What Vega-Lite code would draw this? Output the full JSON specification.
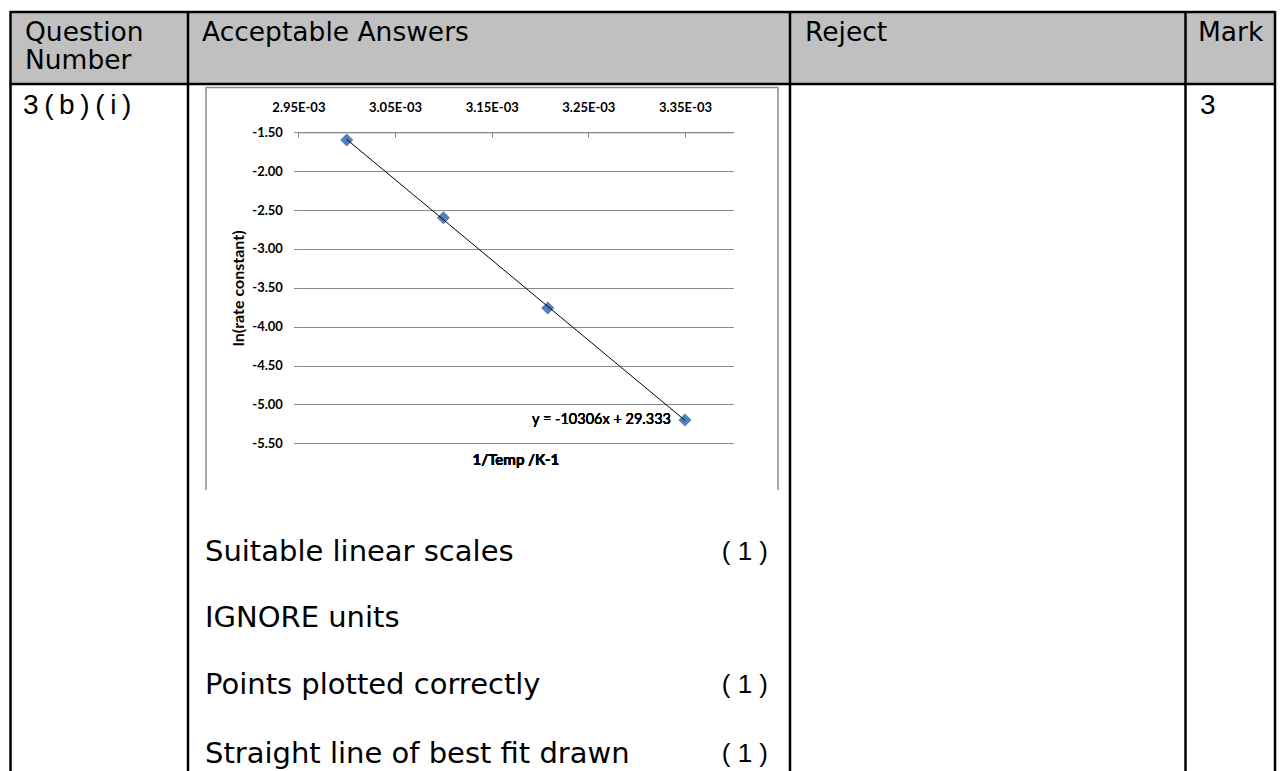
{
  "$schema": "https://vega.github.io/schema/vega-lite/v6.json",
  "width": 1285,
  "height": 771,
  "autosize": {"type": "none"},
  "padding": 0,
  "background": "white",
  "config": {"view": {"stroke": null}},
  "layer": [
    {
      "data": {"values": [{"page": 1}]},
      "layer": [
        {"mark": {"type": "rect", "color": "#C0C0C0"},
         "encoding": {
           "x": {"datum": 10, "type": "quantitative", "scale": {"domain": [0, 1285], "nice": false, "zero": false}, "axis": null},
           "x2": {"datum": 1275},
           "y": {"datum": 12, "type": "quantitative", "scale": {"domain": [0, 771], "nice": false, "zero": false, "reverse": true}, "axis": null},
           "y2": {"datum": 84}}},
        {"mark": {"type": "rule", "color": "#8a8a8a", "strokeWidth": 1.5},
         "encoding": {"x": {"datum": 206, "type": "quantitative", "scale": {"domain": [0, 1285], "nice": false, "zero": false}, "axis": null},
           "y": {"datum": 87.5, "type": "quantitative", "scale": {"domain": [0, 771], "nice": false, "zero": false, "reverse": true}, "axis": null}, "y2": {"datum": 490}}},
        {"mark": {"type": "rule", "color": "#8a8a8a", "strokeWidth": 1.5},
         "encoding": {"x": {"datum": 778, "type": "quantitative", "scale": {"domain": [0, 1285], "nice": false, "zero": false}, "axis": null},
           "y": {"datum": 87.5, "type": "quantitative", "scale": {"domain": [0, 771], "nice": false, "zero": false, "reverse": true}, "axis": null}, "y2": {"datum": 490}}},
        {"mark": {"type": "rule", "color": "#8a8a8a", "strokeWidth": 1.5},
         "encoding": {"x": {"datum": 206, "type": "quantitative", "scale": {"domain": [0, 1285], "nice": false, "zero": false}, "axis": null}, "x2": {"datum": 778},
           "y": {"datum": 87.5, "type": "quantitative", "scale": {"domain": [0, 771], "nice": false, "zero": false, "reverse": true}, "axis": null}}},
        {"mark": {"type": "rule", "color": "#000000", "strokeWidth": 2.5},
         "encoding": {"x": {"datum": 10, "type": "quantitative", "scale": {"domain": [0, 1285], "nice": false, "zero": false}, "axis": null}, "x2": {"datum": 1275},
           "y": {"datum": 12, "type": "quantitative", "scale": {"domain": [0, 771], "nice": false, "zero": false, "reverse": true}, "axis": null}}},
        {"mark": {"type": "rule", "color": "#000000", "strokeWidth": 2.5},
         "encoding": {"x": {"datum": 10, "type": "quantitative", "scale": {"domain": [0, 1285], "nice": false, "zero": false}, "axis": null}, "x2": {"datum": 1275},
           "y": {"datum": 84, "type": "quantitative", "scale": {"domain": [0, 771], "nice": false, "zero": false, "reverse": true}, "axis": null}}},
        {"mark": {"type": "rule", "color": "#000000", "strokeWidth": 2.5},
         "encoding": {"x": {"datum": 10.5, "type": "quantitative", "scale": {"domain": [0, 1285], "nice": false, "zero": false}, "axis": null},
           "y": {"datum": 11, "type": "quantitative", "scale": {"domain": [0, 771], "nice": false, "zero": false, "reverse": true}, "axis": null}, "y2": {"datum": 771}}},
        {"mark": {"type": "rule", "color": "#000000", "strokeWidth": 2.5},
         "encoding": {"x": {"datum": 188, "type": "quantitative", "scale": {"domain": [0, 1285], "nice": false, "zero": false}, "axis": null},
           "y": {"datum": 11, "type": "quantitative", "scale": {"domain": [0, 771], "nice": false, "zero": false, "reverse": true}, "axis": null}, "y2": {"datum": 771}}},
        {"mark": {"type": "rule", "color": "#000000", "strokeWidth": 2.5},
         "encoding": {"x": {"datum": 790, "type": "quantitative", "scale": {"domain": [0, 1285], "nice": false, "zero": false}, "axis": null},
           "y": {"datum": 11, "type": "quantitative", "scale": {"domain": [0, 771], "nice": false, "zero": false, "reverse": true}, "axis": null}, "y2": {"datum": 771}}},
        {"mark": {"type": "rule", "color": "#000000", "strokeWidth": 2.5},
         "encoding": {"x": {"datum": 1185.5, "type": "quantitative", "scale": {"domain": [0, 1285], "nice": false, "zero": false}, "axis": null},
           "y": {"datum": 11, "type": "quantitative", "scale": {"domain": [0, 771], "nice": false, "zero": false, "reverse": true}, "axis": null}, "y2": {"datum": 771}}},
        {"mark": {"type": "rule", "color": "#000000", "strokeWidth": 2.5},
         "encoding": {"x": {"datum": 1275, "type": "quantitative", "scale": {"domain": [0, 1285], "nice": false, "zero": false}, "axis": null},
           "y": {"datum": 11, "type": "quantitative", "scale": {"domain": [0, 771], "nice": false, "zero": false, "reverse": true}, "axis": null}, "y2": {"datum": 771}}},
        {"mark": {"type": "text", "text": "Question", "font": "DejaVu Sans", "fontSize": 26.5, "align": "left", "baseline": "alphabetic", "color": "#000000"},
         "encoding": {"x": {"datum": 25, "type": "quantitative", "scale": {"domain": [0, 1285], "nice": false, "zero": false}, "axis": null},
           "y": {"datum": 40.5, "type": "quantitative", "scale": {"domain": [0, 771], "nice": false, "zero": false, "reverse": true}, "axis": null}}},
        {"mark": {"type": "text", "text": "Number", "font": "DejaVu Sans", "fontSize": 26.5, "align": "left", "baseline": "alphabetic", "color": "#000000"},
         "encoding": {"x": {"datum": 25, "type": "quantitative", "scale": {"domain": [0, 1285], "nice": false, "zero": false}, "axis": null},
           "y": {"datum": 69, "type": "quantitative", "scale": {"domain": [0, 771], "nice": false, "zero": false, "reverse": true}, "axis": null}}},
        {"mark": {"type": "text", "text": "Acceptable Answers", "font": "DejaVu Sans", "fontSize": 26.5, "align": "left", "baseline": "alphabetic", "color": "#000000"},
         "encoding": {"x": {"datum": 202, "type": "quantitative", "scale": {"domain": [0, 1285], "nice": false, "zero": false}, "axis": null},
           "y": {"datum": 40.5, "type": "quantitative", "scale": {"domain": [0, 771], "nice": false, "zero": false, "reverse": true}, "axis": null}}},
        {"mark": {"type": "text", "text": "Reject", "font": "DejaVu Sans", "fontSize": 26.5, "align": "left", "baseline": "alphabetic", "color": "#000000"},
         "encoding": {"x": {"datum": 805, "type": "quantitative", "scale": {"domain": [0, 1285], "nice": false, "zero": false}, "axis": null},
           "y": {"datum": 40.5, "type": "quantitative", "scale": {"domain": [0, 771], "nice": false, "zero": false, "reverse": true}, "axis": null}}},
        {"mark": {"type": "text", "text": "Mark", "font": "DejaVu Sans", "fontSize": 26.5, "align": "left", "baseline": "alphabetic", "color": "#000000"},
         "encoding": {"x": {"datum": 1198, "type": "quantitative", "scale": {"domain": [0, 1285], "nice": false, "zero": false}, "axis": null},
           "y": {"datum": 40.5, "type": "quantitative", "scale": {"domain": [0, 771], "nice": false, "zero": false, "reverse": true}, "axis": null}}},
        {"mark": {"type": "text", "text": "3\u2009(\u2009b\u2009)\u2009(\u2009i\u2009)", "font": "Liberation Sans", "fontSize": 28, "align": "left", "baseline": "alphabetic", "color": "#000000"},
         "encoding": {"x": {"datum": 23, "type": "quantitative", "scale": {"domain": [0, 1285], "nice": false, "zero": false}, "axis": null},
           "y": {"datum": 114, "type": "quantitative", "scale": {"domain": [0, 771], "nice": false, "zero": false, "reverse": true}, "axis": null}}},
        {"mark": {"type": "text", "text": "3", "font": "Liberation Sans", "fontSize": 28, "align": "left", "baseline": "alphabetic", "color": "#000000"},
         "encoding": {"x": {"datum": 1200, "type": "quantitative", "scale": {"domain": [0, 1285], "nice": false, "zero": false}, "axis": null},
           "y": {"datum": 114, "type": "quantitative", "scale": {"domain": [0, 771], "nice": false, "zero": false, "reverse": true}, "axis": null}}},
        {"mark": {"type": "text", "text": "Suitable linear scales", "font": "DejaVu Sans", "fontSize": 29, "align": "left", "baseline": "middle", "color": "#000000"},
         "encoding": {"x": {"datum": 205, "type": "quantitative", "scale": {"domain": [0, 1285], "nice": false, "zero": false}, "axis": null},
           "y": {"datum": 552, "type": "quantitative", "scale": {"domain": [0, 771], "nice": false, "zero": false, "reverse": true}, "axis": null}}},
        {"mark": {"type": "text", "text": "IGNORE units", "font": "DejaVu Sans", "fontSize": 29, "align": "left", "baseline": "middle", "color": "#000000"},
         "encoding": {"x": {"datum": 205, "type": "quantitative", "scale": {"domain": [0, 1285], "nice": false, "zero": false}, "axis": null},
           "y": {"datum": 618, "type": "quantitative", "scale": {"domain": [0, 771], "nice": false, "zero": false, "reverse": true}, "axis": null}}},
        {"mark": {"type": "text", "text": "Points plotted correctly", "font": "DejaVu Sans", "fontSize": 29, "align": "left", "baseline": "middle", "color": "#000000"},
         "encoding": {"x": {"datum": 205, "type": "quantitative", "scale": {"domain": [0, 1285], "nice": false, "zero": false}, "axis": null},
           "y": {"datum": 685, "type": "quantitative", "scale": {"domain": [0, 771], "nice": false, "zero": false, "reverse": true}, "axis": null}}},
        {"mark": {"type": "text", "text": "Straight line of best fit drawn", "font": "DejaVu Sans", "fontSize": 29, "align": "left", "baseline": "middle", "color": "#000000"},
         "encoding": {"x": {"datum": 205, "type": "quantitative", "scale": {"domain": [0, 1285], "nice": false, "zero": false}, "axis": null},
           "y": {"datum": 754, "type": "quantitative", "scale": {"domain": [0, 771], "nice": false, "zero": false, "reverse": true}, "axis": null}}},
        {"mark": {"type": "text", "text": "( 1 )", "font": "Liberation Sans", "fontSize": 26, "align": "right", "baseline": "middle", "color": "#000000"},
         "encoding": {"x": {"datum": 768, "type": "quantitative", "scale": {"domain": [0, 1285], "nice": false, "zero": false}, "axis": null},
           "y": {"datum": 552, "type": "quantitative", "scale": {"domain": [0, 771], "nice": false, "zero": false, "reverse": true}, "axis": null}}},
        {"mark": {"type": "text", "text": "( 1 )", "font": "Liberation Sans", "fontSize": 26, "align": "right", "baseline": "middle", "color": "#000000"},
         "encoding": {"x": {"datum": 768, "type": "quantitative", "scale": {"domain": [0, 1285], "nice": false, "zero": false}, "axis": null},
           "y": {"datum": 685, "type": "quantitative", "scale": {"domain": [0, 771], "nice": false, "zero": false, "reverse": true}, "axis": null}}},
        {"mark": {"type": "text", "text": "( 1 )", "font": "Liberation Sans", "fontSize": 26, "align": "right", "baseline": "middle", "color": "#000000"},
         "encoding": {"x": {"datum": 768, "type": "quantitative", "scale": {"domain": [0, 1285], "nice": false, "zero": false}, "axis": null},
           "y": {"datum": 754, "type": "quantitative", "scale": {"domain": [0, 771], "nice": false, "zero": false, "reverse": true}, "axis": null}}}
      ]
    },
    {
      "data": {"values": [
        {"inv_T": 0.003000, "ln_k": -1.60},
        {"inv_T": 0.003100, "ln_k": -2.60},
        {"inv_T": 0.003208, "ln_k": -3.76},
        {"inv_T": 0.003350, "ln_k": -5.20}
      ]},
      "layer": [
        {"mark": {"type": "point", "shape": "diamond", "filled": true, "size": 170, "color": "#4F81BD", "opacity": 1},
         "encoding": {
           "x": {"field": "inv_T", "type": "quantitative",
             "scale": {"domain": [0.00295, 0.0034], "range": [298.4, 733.3], "nice": false, "zero": false},
             "axis": {"orient": "top", "offset": -132.3, "values": [0.00295, 0.00305, 0.00315, 0.00325, 0.00335],
               "labelExpr": "replace(replace(format(datum.value, '.2e'), '\u2212', '-'), 'e-3', 'E-03')",
               "grid": false, "domain": true, "domainColor": "#8a8a8a", "domainWidth": 1,
               "ticks": true, "tickColor": "#8a8a8a", "tickSize": -5, "labelPadding": 23,
               "labelFont": "Lato", "labelFontWeight": "bold", "labelFontSize": 13, "labelColor": "#000000",
               "labelFlush": false, "labelOverlap": false, "title": null}},
           "y": {"field": "ln_k", "type": "quantitative",
             "scale": {"domain": [-5.5, -1.5], "range": [443.3, 132.3], "nice": false, "zero": false},
             "axis": {"orient": "left", "offset": -298.4, "values": [-1.5, -2, -2.5, -3, -3.5, -4, -4.5, -5, -5.5],
               "labelExpr": "replace(format(datum.value, '.2f'), '\u2212', '-')",
               "grid": true, "gridColor": "#8a8a8a", "gridWidth": 1, "domain": false,
               "ticks": true, "tickColor": "#8a8a8a", "tickSize": 5, "labelPadding": 11,
               "labelFont": "Lato", "labelFontWeight": "bold", "labelFontSize": 13, "labelColor": "#000000",
               "labelFlush": false, "labelOverlap": false,
               "title": "ln(rate constant)", "titleFont": "Lato", "titleFontWeight": "bold", "titleFontSize": 16,
               "titleColor": "#000000", "titlePadding": 5}}}},
        {"transform": [{"regression": "ln_k", "on": "inv_T"}],
         "mark": {"type": "line", "color": "#000000", "strokeWidth": 1},
         "encoding": {"x": {"field": "inv_T", "type": "quantitative"}, "y": {"field": "ln_k", "type": "quantitative"}}},
        {"mark": {"type": "text", "text": "y = -10306x + 29.333", "font": "Lato", "fontSize": 14.5, "align": "right", "baseline": "middle", "dx": -14, "color": "#000000"},
         "encoding": {"x": {"datum": 0.00335, "type": "quantitative"}, "y": {"datum": -5.2, "type": "quantitative"}}},
        {"mark": {"type": "text", "text": "1/Temp /K-1", "font": "Lato", "fontWeight": "bold", "fontSize": 15, "align": "center", "baseline": "middle", "dy": 17, "color": "#000000"},
         "encoding": {"x": {"datum": 0.003175, "type": "quantitative"}, "y": {"datum": -5.5, "type": "quantitative"}}}
      ]
    }
  ],
  "resolve": {"scale": {"x": "independent", "y": "independent"}}
}
